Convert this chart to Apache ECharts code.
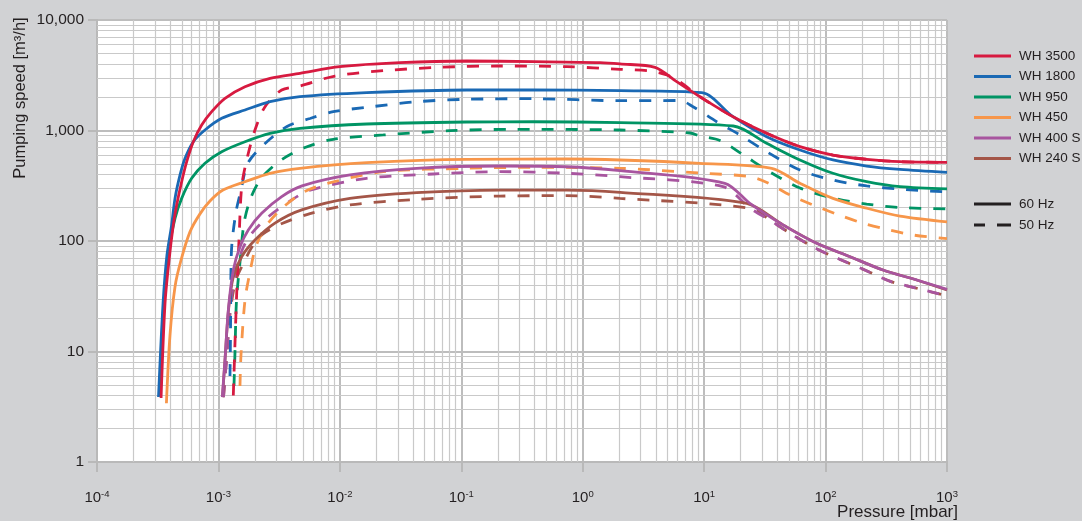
<!DOCTYPE html>
<html>
<head>
<meta charset="utf-8">
<script src="https://cdn.jsdelivr.net/npm/echarts@6/dist/echarts.min.js"></script>
<style>
  html, body { margin: 0; padding: 0; background: #d1d2d4; }
  #chart { width: 1082px; height: 521px; }
</style>
</head>
<body>
<div id="chart"></div>
<script>
// ---- Data (pressure [mbar], pumping speed [m³/h]) ----
const models = ['WH 3500', 'WH 1800', 'WH 950', 'WH 450', 'WH 400 S', 'WH 240 S'];
const modelColors = ['#d71a40', '#1a69b4', '#009464', '#f7964a', '#a8559f', '#a45648'];

const wh3500_60 = [[3.37e-4,3.8],[3.63e-4,27],[3.92e-4,67],[4.25e-4,140],[4.53e-4,212],[4.98e-4,344],[5.48e-4,522],[6.21e-4,792],[7.28e-4,1120],[8.8e-4,1480],[1.133e-3,1956],[1.655e-3,2490],[2.66e-3,2965],[4.69e-3,3290],[1.0e-2,3780],[3.13e-2,4110],[0.111,4255],[0.392,4195],[1.39,4110],[2.03,4000],[3.94,3730],[5.94,2765],[9.24,2020],[17.3,1333],[32.7,943],[61.5,714],[115,600],[218,549],[410,522],[1000,515]];
const wh3500_50 = [[1.326e-3,4.0],[1.369e-3,11.9],[1.414e-3,33.6],[1.477e-3,102],[1.554e-3,310],[1.709e-3,541],[2.0e-3,1010],[2.42e-3,1642],[3.32e-3,2325],[4.69e-3,2528],[9.12e-3,3113],[2.28e-2,3477],[6.68e-2,3733],[0.208,3835],[0.738,3780],[2.03,3579],[3.58,3455],[4.94,3180],[6.32,2748],[9.24,2020],[17.3,1333],[32.7,943],[61.5,714],[115,600],[218,549],[410,522],[1000,515]];

const wh1800_60 = [[3.21e-4,3.87],[3.5e-4,27.3],[3.77e-4,74.7],[4.12e-4,140],[4.39e-4,243],[4.83e-4,396],[5.31e-4,560],[6.21e-4,792],[7.75e-4,1010],[1.064e-3,1289],[1.655e-3,1533],[2.66e-3,1822],[4.69e-3,2022],[1.66e-2,2198],[0.111,2325],[0.392,2325],[2.03,2292],[9.54,2198],[17.3,1333],[32.7,879],[61.5,666],[115,541],[218,477],[410,445],[1000,418]];
const wh1800_50 = [[1.245e-3,6.0],[1.257e-3,14.1],[1.269e-3,58],[1.293e-3,96],[1.395e-3,183],[1.534e-3,289],[1.751e-3,508],[2.42e-3,763],[3.67e-3,1087],[5.68e-3,1284],[8.83e-3,1480],[1.66e-2,1621],[4.29e-2,1822],[0.111,1916],[0.392,1940],[2.03,1861],[6.32,1869],[8.09,1642],[12.7,1201],[19.7,911],[32.7,643],[61.5,439],[115,356],[218,315],[410,295],[1000,278]];

const wh950_60 = [[3.3e-4,3.96],[3.56e-4,27.3],[3.84e-4,74.7],[4.39e-4,160],[4.98e-4,243],[6.02e-4,369],[7.75e-4,505],[1.064e-3,643],[1.655e-3,792],[2.66e-3,943],[4.69e-3,1047],[1.66e-2,1145],[0.111,1194],[0.392,1200],[2.03,1177],[17.4,1098],[32.7,766],[61.5,541],[115,410],[218,344],[410,310],[1000,296]];
const wh950_50 = [[1.343e-3,4.87],[1.369e-3,9.9],[1.409e-3,29.2],[1.505e-3,64.4],[1.624e-3,145],[1.82e-3,235],[2.12e-3,335],[2.46e-3,412],[3.34e-3,547],[5.16e-3,702],[8.83e-3,832],[2.28e-2,911],[8.07e-2,996],[0.286,1025],[2.03,1010],[7.64,949],[9.24,892],[13.5,812],[20.5,613],[34.8,421],[61.5,302],[115,245],[218,216],[410,201],[1000,195]];

const wh450_60 = [[3.73e-4,3.4],[3.99e-4,14],[4.39e-4,38.6],[4.92e-4,67],[5.83e-4,121],[7.05e-4,176],[8.52e-4,230],[1.09e-3,289],[1.655e-3,344],[2.66e-3,410],[4.69e-3,455],[1.66e-2,511],[0.111,549],[0.738,552],[2.03,541],[9.24,505],[36,455],[61.5,333],[115,243],[218,198],[410,168],[1000,149]];
const wh450_50 = [[1.505e-3,4.87],[1.534e-3,9.3],[1.655e-3,29.2],[1.82e-3,52.4],[2.04e-3,90],[2.51e-3,140],[3.4e-3,201],[4.97e-3,275],[7.83e-3,331],[2.28e-2,424],[0.111,455],[0.392,464],[2.03,455],[9.24,412],[23.8,382],[33.6,335],[51.9,258],[80.3,210],[129,172],[207,144],[333,126],[535,113],[1000,105]];

const wh400s_60 = [[1.076e-3,3.87],[1.133e-3,8.4],[1.206e-3,23.7],[1.326e-3,54.6],[1.505e-3,88.8],[1.762e-3,126],[2.27e-3,178],[3.32e-3,252],[4.88e-3,315],[1.212e-2,396],[4.29e-2,455],[0.208,477],[0.738,470],[2.03,433],[14.8,333],[23.8,219],[44.6,140],[84.5,95.3],[159,72.1],[297,54.6],[563,44.4],[1000,36.5]];
const wh400s_50 = [[1.101e-3,3.87],[1.165e-3,8.4],[1.245e-3,23.7],[1.382e-3,52.4],[1.593e-3,86.4],[1.889e-3,118],[2.51e-3,162],[4.01e-3,235],[5.68e-3,289],[1.66e-2,369],[5.88e-2,404],[0.208,424],[0.738,410],[2.03,382],[14.3,310],[23.8,199],[36.2,150],[56,110],[86.6,83.8],[138,66.6],[215,54.1],[346,42.9],[535,37.9],[1000,31.8]];

const wh240s_60 = [[1.08e-3,3.87],[1.133e-3,8.4],[1.21e-3,23.7],[1.326e-3,47.5],[1.554e-3,72.1],[2.0e-3,102],[2.92e-3,145],[4.85e-3,191],[1.212e-2,243],[4.29e-2,274],[0.208,289],[0.738,289],[2.03,276],[22.4,219],[44.6,140],[84.5,95.3],[159,72.1],[297,54.6],[563,44.4],[1000,36]];
const wh240s_50 = [[1.101e-3,3.87],[1.165e-3,8.4],[1.257e-3,23.7],[1.395e-3,44.4],[1.624e-3,64.4],[1.889e-3,88.2],[2.33e-3,116],[3.34e-3,144],[5.68e-3,177],[1.212e-2,212],[4.29e-2,238],[0.208,255],[0.738,257],[2.03,243],[23.8,198],[36.2,150],[56,110],[86.6,83.8],[138,66.6],[215,54.1],[346,42.9],[535,37.9],[1000,31.8]];

const curves60 = [wh3500_60, wh1800_60, wh950_60, wh450_60, wh400s_60, wh240s_60];
const curves50 = [wh3500_50, wh1800_50, wh950_50, wh450_50, wh400s_50, wh240s_50];
const frequencyLabels = ['60 Hz', '50 Hz'];

const xMinExp = -4, xMaxExp = 3, yMinExp = 0, yMaxExp = 4;

// ---- Chart ----
const FONT = '"Liberation Sans", Arial, Helvetica, sans-serif';
const TEXT = '#231f20';
const GRID_MINOR = '#c9c9c9';
const GRID_MAJOR = '#bdbdbd';

// minor log grid positions (2..9 within each decade)
const xMinor = [], yMinor = [];
for (let e = xMinExp; e < xMaxExp; e++) for (let k = 2; k <= 9; k++) xMinor.push(k * Math.pow(10, e));
for (let e = yMinExp; e < yMaxExp; e++) for (let k = 2; k <= 9; k++) yMinor.push(k * Math.pow(10, e));

const series = [];
// grid helper series
series.push({
  type: 'line', data: [], silent: true, z: 1,
  markLine: {
    silent: true, symbol: 'none', z: 1, animation: false, precision: 12,
    label: { show: false },
    lineStyle: { color: GRID_MINOR, width: 1.2, type: 'solid' },
    emphasis: { disabled: true },
    data: xMinor.map(v => ({ xAxis: v })).concat(yMinor.map(v => ({ yAxis: v })))
  }
});

const drawOrder = [5, 4, 3, 2, 1, 0];
drawOrder.forEach(i => {
  series.push({
    name: models[i] + ' (50 Hz)', type: 'line', data: curves50[i],
    showSymbol: false, symbol: 'none', smooth: 0.3, color: modelColors[i], z: 3,
    lineStyle: { width: 2.8, type: [12, 12], color: modelColors[i] }
  });
});
drawOrder.forEach(i => {
  series.push({
    name: models[i], type: 'line', data: curves60[i],
    showSymbol: false, symbol: 'none', smooth: 0.3, color: modelColors[i], z: 4,
    lineStyle: { width: 2.8, color: modelColors[i] }
  });
});
frequencyLabels.forEach(f => {
  series.push({ name: f, type: 'line', data: [], color: '#231f20', showSymbol: false,
    lineStyle: { color: '#231f20' } });
});

const legendCommon = {
  orient: 'vertical', left: 969, itemWidth: 37, itemHeight: 3,
  selectedMode: false,
  textStyle: { fontSize: 13.5, color: TEXT, fontFamily: FONT, padding: [0, 0, 0, 3] }
};

const chart = echarts.init(document.getElementById('chart'), null, { renderer: 'canvas' });
chart.setOption({
  animation: false,
  backgroundColor: '#d1d2d4',
  textStyle: { fontFamily: FONT },
  grid: { left: 97, right: 135, top: 20, bottom: 59, show: true, backgroundColor: '#ffffff', borderWidth: 0 },
  xAxis: {
    type: 'log', logBase: 10, min: Math.pow(10, xMinExp), max: Math.pow(10, xMaxExp), splitNumber: 7,
    axisLine: { show: true, lineStyle: { color: '#b9b9b9', width: 2 } },
    axisTick: { show: true, length: 10, lineStyle: { color: '#b9b9b9', width: 2 } },
    splitLine: { show: true, lineStyle: { color: GRID_MAJOR, width: 2 } },
    axisLabel: {
      margin: 27, color: TEXT,
      formatter: v => '{b|10}{s|' + Math.round(Math.log10(v)) + '}',
      rich: {
        b: { fontSize: 15, lineHeight: 18, fontFamily: FONT, color: TEXT },
        s: { fontSize: 9.5, lineHeight: 10, verticalAlign: 'top', fontFamily: FONT, color: TEXT }
      }
    }
  },
  yAxis: {
    type: 'log', logBase: 10, min: Math.pow(10, yMinExp), max: Math.pow(10, yMaxExp), splitNumber: 4,
    axisLine: { show: true, lineStyle: { color: '#b9b9b9', width: 2 } },
    axisTick: { show: true, length: 9, lineStyle: { color: '#b9b9b9', width: 2 } },
    splitLine: { show: true, lineStyle: { color: GRID_MAJOR, width: 2 } },
    axisLabel: {
      margin: 13, color: TEXT, fontSize: 15.5, fontFamily: FONT,
      formatter: v => String(Math.round(v)).replace(/\B(?=(\d{3})+(?!\d))/g, ',')
    }
  },
  legend: [
    Object.assign({}, legendCommon, { top: 44, itemGap: 6.5, icon: 'rect', data: models }),
    Object.assign({}, legendCommon, { top: 192, itemGap: 7, data: [
      { name: '60 Hz', icon: 'rect' },
      { name: '50 Hz', icon: 'path://M0,0h11v3h-11z M23,0h14v3h-14z' }
    ] })
  ],
  graphic: [
    { type: 'text', x: 20, y: 98, rotation: Math.PI / 2,
      style: { text: 'Pumping speed [m³/h]', fontSize: 16.5, fontFamily: FONT, fill: TEXT, align: 'center', verticalAlign: 'middle' } },
    { type: 'text', x: 958, y: 512,
      style: { text: 'Pressure [mbar]', fontSize: 17, fontFamily: FONT, fill: TEXT, align: 'right', verticalAlign: 'middle' } }
  ],
  series: series
});
</script>
</body>
</html>
